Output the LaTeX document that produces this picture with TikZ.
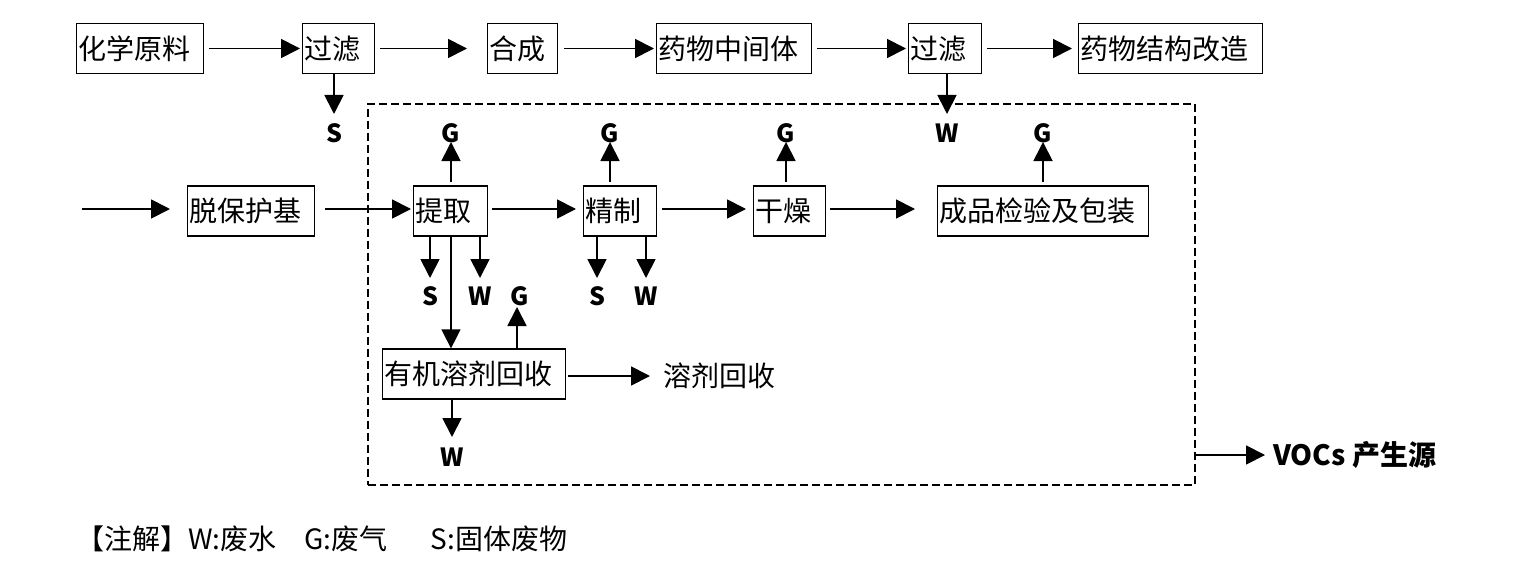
\documentclass[tikz,border=0pt]{standalone}
\usepackage{fontspec}
\setmainfont{Noto Sans CJK SC}
\usetikzlibrary{arrows.meta}
\begin{document}
\begin{tikzpicture}[x=1pt,y=-1pt,
  box/.style={draw, line width=1.2pt, inner xsep=1.5pt, inner ysep=0pt, minimum height=50pt, anchor=west, align=left, font=\fontsize{28}{31}\selectfont},
  arr/.style={-{Triangle[length=19pt,width=19pt]}, line width=1.8pt},
  thinarr/.style={-{Triangle[length=19pt,width=19pt]}, line width=1.3pt},
  lab/.style={font=\fontsize{25}{28}\selectfont\bfseries, inner sep=0pt},
  txt/.style={font=\fontsize{28}{31}\selectfont, inner sep=0pt},
  dashbox/.style={draw, line width=1.6pt, dash pattern=on 8pt off 4pt, inner sep=0pt}]
\useasboundingbox (0,0) rectangle (1522,575);

% dashed VOC region
\node[dashbox, minimum width=827pt, minimum height=381pt, anchor=north west] (Z) at (367,103) {};

% row 1
\node[box, text width=124pt] (A) at (76,48.5) {化学原料};
\node[box, text width=69pt] (B) at (302,48.5) {过滤};
\node[box, text width=67pt] (C) at (487,48.5) {合成};
\node[box, text width=152pt] (D) at (656,48.5) {药物中间体};
\node[box, text width=70pt] (E) at (908,48.5) {过滤};
\node[box, text width=181pt] (F) at (1078,48.5) {药物结构改造};

\draw[arr] ([xshift=5pt]A.east) -- ([xshift=-2pt]B.west);
\draw[arr] ([xshift=5pt]B.east) -- ([xshift=-20pt]C.west);
\draw[arr] ([xshift=6pt]C.east) -- ([xshift=-2pt]D.west);
\draw[arr] ([xshift=5pt]D.east) -- ([xshift=-2pt]E.west);
\draw[arr] ([xshift=5pt]E.east) -- ([xshift=-6pt]F.west);

\node[lab] (S1) at (334,133) {S};
\draw[arr] (B.south -| S1) -- ([yshift=19pt]S1.center);
\node[lab] (W1) at (947,133) {W};
\draw[arr] (E.south -| W1) -- ([yshift=19pt]W1.center);

% row 2
\node[box, text width=124pt] (H) at (187,211) {脱保护基};
\node[box, text width=71pt] (I) at (413,211) {提取};
\node[box, text width=70pt] (J) at (583,211) {精制};
\node[box, text width=69pt] (K) at (753,211) {干燥};
\node[box, text width=208pt] (L) at (937,211) {成品检验及包装};

\coordinate (st) at (82,209);
\draw[arr] (st) -- ([xshift=-17pt]H.west |- st);
\draw[arr] ([xshift=10pt]H.east |- st) -- ([xshift=-2pt]I.west |- st);
\draw[arr] ([xshift=4pt]I.east |- st) -- ([xshift=-7pt]J.west |- st);
\draw[arr] ([xshift=5pt]J.east |- st) -- ([xshift=-7pt]K.west |- st);
\draw[arr] ([xshift=4pt]K.east |- st) -- ([xshift=-22pt]L.west |- st);

% G outputs
\node[lab] (G1) at (451,133) {G};
\node[lab] (G2) at (610,133) {G};
\node[lab] (G3) at (786,133) {G};
\node[lab] (G4) at (1043,133) {G};
\draw[arr] ([yshift=3pt]I.north -| G1) -- ([yshift=-9pt]G1.center);
\draw[arr] ([yshift=3pt]J.north -| G2) -- ([yshift=-9pt]G2.center);
\draw[arr] ([yshift=3pt]K.north -| G3) -- ([yshift=-9pt]G3.center);
\draw[arr] ([yshift=3pt]L.north -| G4) -- ([yshift=-9pt]G4.center);

% S / W below
\node[lab] (S2) at (430,296) {S};
\node[lab] (W2) at (480,296) {W};
\node[lab] (S3) at (597,296) {S};
\node[lab] (W3) at (646,296) {W};
\draw[arr] (I.south -| S2) -- ([yshift=18pt]S2.center);
\draw[arr] (I.south -| W2) -- ([yshift=18pt]W2.center);
\draw[arr] (J.south -| S3) -- ([yshift=18pt]S3.center);
\draw[arr] (J.south -| W3) -- ([yshift=18pt]W3.center);

% solvent recovery
\node[box, text width=180pt] (M) at (382,374) {有机溶剂回收};
\coordinate (mid) at (451,0);
\draw[thinarr] (I.south -| mid) -- (M.north -| mid);
\node[lab] (G5) at (520,296) {G};
\coordinate (gx) at (517,0);
\draw[arr] (M.north -| gx) -- ([yshift=-11pt]G5.center -| gx);
\node[txt, anchor=west] (R) at (663,376) {溶剂回收};
\draw[arr] ([xshift=2pt]M.east |- R) -- ([xshift=-13pt]R.west);
\node[lab] (W4) at (452,457) {W};
\draw[arr] (M.south -| W4) -- ([yshift=20pt]W4.center);

% VOCs
\node[lab, font=\fontsize{28}{30}\selectfont\bfseries, anchor=west] (V) at (1273,455) {VOCs 产生源};
\draw[arr] (Z.east |- V.west) -- ([xshift=-8pt]V.west);

% legend
\node[txt, anchor=west] (N) at (76,539) {【注解】W:废水\hspace{28pt}G:废气\hspace{43pt}S:固体废物};
\end{tikzpicture}
\end{document}
